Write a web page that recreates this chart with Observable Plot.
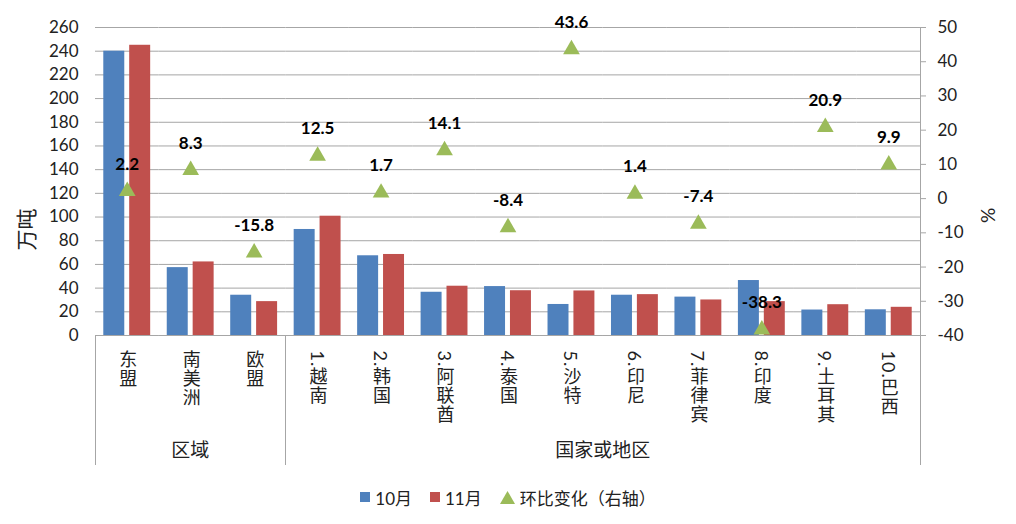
<!DOCTYPE html>
<html><head><meta charset="utf-8">
<script src="https://cdn.jsdelivr.net/npm/d3@7"></script>
<script src="https://cdn.jsdelivr.net/npm/@observablehq/plot@0.6"></script>
<style>
body{margin:0;background:#fff;font-family:Lato,"Noto Sans CJK SC",sans-serif;}
#legend{display:flex;justify-content:center;align-items:center;height:54px;font-size:17px;color:#222;}
#legend .it{display:flex;align-items:center;margin:0 9px;}
#legend .sw{width:10px;height:10px;margin-right:5px;}
#legend svg{margin-right:5px;}
</style></head><body><div id="chart"></div><div id="legend"></div>
<script>
const categories = ["东盟","南美洲","欧盟","1.越南","2.韩国","3.阿联酋","4.泰国","5.沙特","6.印尼","7.菲律宾","8.印度","9.土耳其","10.巴西"];
const categoryGroup = ["区域","区域","区域","国家或地区","国家或地区","国家或地区","国家或地区","国家或地区","国家或地区","国家或地区","国家或地区","国家或地区","国家或地区"];
const seriesNames = ["10月","11月"];
const octValues = [240, 57.3, 34, 89.5, 67.3, 36.5, 41.3, 26.2, 34.0, 32.4, 46.4, 21.5, 21.7];
const novValues = [245, 62.1, 28.6, 100.7, 68.4, 41.6, 37.8, 37.6, 34.5, 30.0, 28.6, 26.0, 23.8];
const pctChange = [2.2, 8.3, -15.8, 12.5, 1.7, 14.1, -8.4, 43.6, 1.4, -7.4, -38.3, 20.9, 9.9];
const leftTicks = [0,20,40,60,80,100,120,140,160,180,200,220,240,260];
const rightTicks = [-40,-30,-20,-10,0,10,20,30,40,50];
const leftTitle = "万吨";
const rightTitle = "%";
const colors = ["#4F81BD","#C0504D"];
const triColor = "#9BBB59";

const LMIN = 0, LMAX = 260, RMIN = -40, RMAX = 50;
const toLeft = p => (p - RMIN) * (LMAX - LMIN) / (RMAX - RMIN) + LMIN;
const toRight = v => (v - LMIN) * (RMAX - RMIN) / (LMAX - LMIN) + RMIN;

const rows = categories.flatMap((c, i) => [
  {cat: c, series: seriesNames[0], value: octValues[i]},
  {cat: c, series: seriesNames[1], value: novValues[i]}
]);
const pctRows = categories.map((c, i) => ({cat: c, pct: pctChange[i]}));

const fontFam = 'Lato, "Noto Sans CJK SC", sans-serif';
const H = 470;
const chart = Plot.plot({
  width: 1016, height: H,
  marginLeft: 95, marginRight: 96, marginTop: 27, marginBottom: 135,
  style: {fontFamily: fontFam, fontSize: "17px", color: "#222", background: "#fff", overflow: "visible"},
  fx: {domain: categories, paddingInner: 0, paddingOuter: 0, round: false, axis: null, label: null},
  x: {domain: seriesNames, paddingInner: 0.19, paddingOuter: 0.32, round: false, axis: null},
  y: {domain: [LMIN, LMAX], axis: null},
  color: {domain: seriesNames, range: colors},
  marks: [
    Plot.gridY(leftTicks, {stroke: "#a6a6a6", strokeOpacity: 1}),
    Plot.barY(rows, {fx: "cat", x: "series", y: "value", fill: "series"}),
    Plot.ruleY([0], {stroke: "#a6a6a6"}),
    Plot.axisY(leftTicks, {anchor: "left", label: null, tickSize: 0, tickPadding: 17, fontSize: 17, fill: "#222", tickFormat: d => String(d)}),
    Plot.axisY(rightTicks.map(toLeft), {anchor: "right", label: null, tickSize: 5, tickPadding: 12, fontSize: 17, stroke: "#a6a6a6", fill: "#222", tickFormat: d => String(Math.round(toRight(d)))}),
    Plot.dot(pctRows, {fx: "cat", y: d => toLeft(d.pct), symbol: "triangle", r: 6.2, fill: triColor, stroke: null}),
    Plot.text(pctRows, {fx: "cat", y: d => toLeft(d.pct), text: d => d.pct.toFixed(1), dy: -27, fontWeight: "bold", fontSize: 17, fill: "#000"}),
    Plot.text(categories, {fx: d => d, text: d => d, frameAnchor: "bottom", dy: 15, textAnchor: "start", lineAnchor: "bottom", fontSize: 18, fill: "#222", ariaLabel: "catlabel"})
  ]
});
document.getElementById("chart").appendChild(chart);

const svg = d3.select(chart);
svg.selectAll("text").filter(function() { return categories.includes(this.textContent); })
  .attr("writing-mode", "tb")
  .style("writing-mode", "vertical-rl")
  .style("text-orientation", "mixed")
  .style("letter-spacing", "1px");

// group separators, group labels and axis titles, positioned via the fx / y scales
const fx = chart.scale("fx"), ys = chart.scale("y");
const bw = fx.bandwidth;
const y0 = ys.apply(0), yTop = ys.apply(LMAX), yEnd = H - 5;
const xLeft = fx.apply(categories[0]), xRight = fx.apply(categories[categories.length - 1]) + bw;
const groupNames = [...new Set(categoryGroup)];
const edges = [];
const g = svg.append("g").attr("font-family", fontFam).attr("fill", "#222");
groupNames.forEach((gn, k) => {
  const cats = categories.filter((c, i) => categoryGroup[i] === gn);
  const x1 = fx.apply(cats[0]), x2 = fx.apply(cats[cats.length - 1]) + bw;
  if (k === 0) edges.push(x1);
  edges.push(x2);
  g.append("text").attr("x", (x1 + x2) / 2).attr("y", y0 + 117)
    .attr("text-anchor", "middle").attr("dominant-baseline", "middle")
    .attr("font-size", 19).text(gn);
});
edges.forEach((x, i) => {
  g.append("line").attr("x1", x).attr("x2", x)
    .attr("y1", i === edges.length - 1 ? yTop : y0).attr("y2", yEnd)
    .attr("stroke", "#a6a6a6").attr("stroke-width", 1).attr("shape-rendering", "crispEdges");
});
const midL = ys.apply(89);
g.append("text").attr("transform", `translate(${xLeft - 66},${midL}) rotate(-90)`)
  .attr("text-anchor", "middle").attr("dominant-baseline", "middle").attr("font-size", 21).text(leftTitle);
const midR = ys.apply(101);
g.append("text").attr("transform", `translate(${xRight + 66},${midR}) rotate(90)`)
  .attr("text-anchor", "middle").attr("dominant-baseline", "middle").attr("font-size", 19).text(rightTitle);

// legend
const lg = d3.select("#legend");
seriesNames.forEach((s, i) => {
  const it = lg.append("div").attr("class", "it");
  it.append("div").attr("class", "sw").style("background", colors[i]);
  it.append("span").text(s);
});
const it3 = lg.append("div").attr("class", "it");
it3.append("svg").attr("width", 15).attr("height", 13).append("path")
  .attr("d", "M7.5,0L15,13L0,13Z").attr("fill", triColor);
it3.append("span").text("环比变化（右轴）");
</script></body></html>
